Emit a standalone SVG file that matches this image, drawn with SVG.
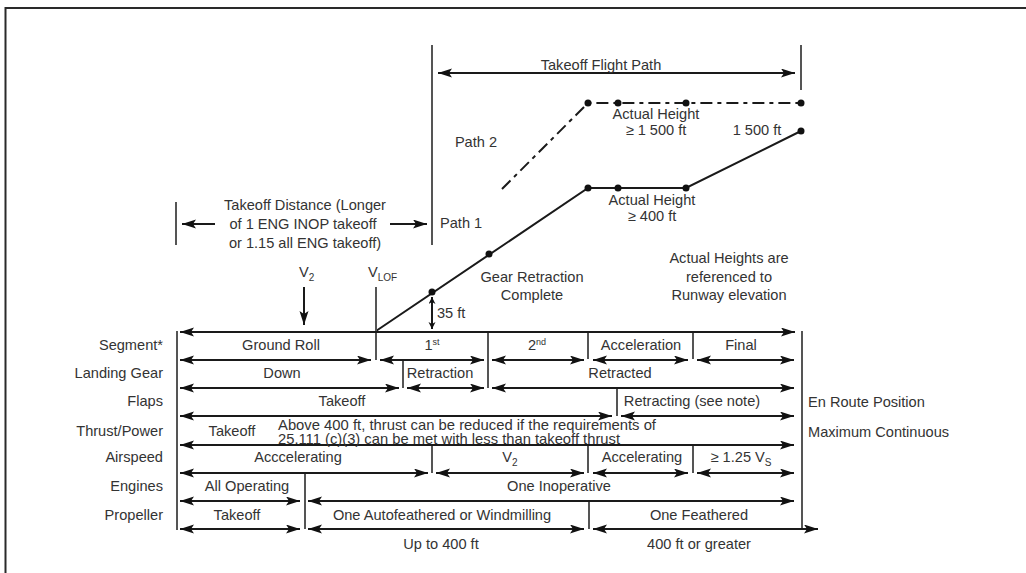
<svg xmlns="http://www.w3.org/2000/svg" width="1026" height="573" viewBox="0 0 1026 573">
<style>
text{font-family:"Liberation Sans",Arial,sans-serif;font-size:14.6px;fill:#333}
.m{text-anchor:middle}
.e{text-anchor:end}
.ln{stroke:#1a1a1a;stroke-width:2;fill:none}
.ar{stroke:#1a1a1a;stroke-width:2;fill:none;marker-end:url(#ah);marker-start:url(#ah)}
.ae{stroke:#1a1a1a;stroke-width:2;fill:none;marker-end:url(#ah)}
.dv{stroke:#555;stroke-width:2;fill:none}
.dot{fill:#111}
.sub{font-size:10px}
.sup{font-size:9px}
</style>
<defs>
<marker id="ah" markerUnits="userSpaceOnUse" markerWidth="15" markerHeight="10" refX="14" refY="4.5" orient="auto-start-reverse">
<path d="M0,0 L14,4.5 L0,9 L3,4.5 Z" fill="#111"/>
</marker>
<marker id="as" markerUnits="userSpaceOnUse" markerWidth="8" markerHeight="8" refX="7" refY="3.5" orient="auto-start-reverse">
<path d="M0,0 L7,3.5 L0,7 L2,3.5 Z" fill="#111"/>
</marker>
</defs>
<rect width="1026" height="573" fill="#fff"/>
<g id="frame">
<path d="M5.5,573 V8 H1026" stroke="#2a2a2a" stroke-width="2" fill="none"/>
</g>
<g id="connectors">
<line class="dv" x1="432" y1="45" x2="432" y2="245"/>
<line class="dv" x1="801" y1="45" x2="801" y2="90"/>
<line class="ar" x1="438" y1="73" x2="795" y2="73"/>
<line class="dv" x1="176" y1="202" x2="176" y2="245"/>
<line class="ae" x1="215" y1="224" x2="182" y2="224"/>
<line class="ae" x1="390" y1="224" x2="427" y2="224"/>
<line class="ae" x1="304" y1="287" x2="304" y2="325"/>
<line stroke="#1a1a1a" stroke-width="2" x1="432" y1="297" x2="432" y2="329" marker-start="url(#as)" marker-end="url(#as)"/>
<polyline class="ln" points="376,331 588,188 686,188 801,131"/>
<polyline class="ln" points="502,189 588,103 801,103" stroke-dasharray="12 5 4 5"/>
</g>
<g id="path-dots">
<circle class="dot" cx="432" cy="292" r="3.5"/>
<circle class="dot" cx="489" cy="254" r="3.5"/>
<circle class="dot" cx="588" cy="188" r="3.5"/>
<circle class="dot" cx="618" cy="188" r="3.5"/>
<circle class="dot" cx="686" cy="188" r="3.5"/>
<circle class="dot" cx="801" cy="131" r="3.5"/>
<circle class="dot" cx="588" cy="103" r="3.5"/>
<circle class="dot" cx="618" cy="103" r="3.5"/>
<circle class="dot" cx="686" cy="103" r="3.5"/>
<circle class="dot" cx="801" cy="103" r="3.5"/>
</g>
<g id="flight-labels">
<text class="m" x="601" y="70">Takeoff Flight Path</text>
<text class="m" x="476" y="147">Path 2</text>
<text class="m" x="656" y="119">Actual Height</text>
<text class="m" x="656" y="135">≥ 1 500 ft</text>
<text class="m" x="757" y="135">1 500 ft</text>
<text class="m" x="652" y="205">Actual Height</text>
<text class="m" x="652" y="221">≥ 400 ft</text>
<text x="440" y="228">Path 1</text>
<text class="m" x="532" y="282">Gear Retraction</text>
<text class="m" x="532" y="300">Complete</text>
<text class="m" x="729" y="263">Actual Heights are</text>
<text class="m" x="729" y="282">referenced to</text>
<text class="m" x="729" y="300">Runway elevation</text>
<text class="m" x="305" y="210">Takeoff Distance (Longer</text>
<text class="m" x="303" y="229">of 1 ENG INOP takeoff</text>
<text class="m" x="305" y="248">or 1.15 all ENG takeoff)</text>
<text x="299" y="277">V<tspan class="sub" dy="4">2</tspan></text>
<text x="368" y="277">V<tspan class="sub" dy="4">LOF</tspan></text>
<text x="437" y="318">35 ft</text>
</g>
<g id="table-lines">
<line class="dv" x1="177" y1="331" x2="177" y2="530"/>
<line class="dv" x1="802" y1="331" x2="802" y2="530"/>
<line class="dv" x1="376" y1="287" x2="376" y2="360"/>
<line class="dv" x1="488" y1="332" x2="488" y2="388"/>
<line class="dv" x1="588" y1="332" x2="588" y2="359"/>
<line class="dv" x1="693" y1="332" x2="693" y2="359"/>
<line class="dv" x1="403" y1="360" x2="403" y2="388"/>
<line class="dv" x1="617" y1="388" x2="617" y2="416"/>
<line class="dv" x1="432" y1="445" x2="432" y2="473"/>
<line class="dv" x1="588" y1="445" x2="588" y2="473"/>
<line class="dv" x1="693" y1="445" x2="693" y2="473"/>
<line class="dv" x1="305" y1="473" x2="305" y2="529"/>
<line class="dv" x1="589" y1="501" x2="589" y2="529"/>
<line class="ar" x1="180" y1="332" x2="795" y2="332"/>
<line class="ar" x1="180" y1="360" x2="371" y2="360"/>
<line class="ar" x1="380" y1="360" x2="484" y2="360"/>
<line class="ar" x1="492" y1="360" x2="584" y2="360"/>
<line class="ar" x1="593" y1="360" x2="688" y2="360"/>
<line class="ar" x1="697" y1="360" x2="794" y2="360"/>
<line class="ar" x1="180" y1="388" x2="399" y2="388"/>
<line class="ar" x1="407" y1="388" x2="484" y2="388"/>
<line class="ar" x1="492" y1="388" x2="794" y2="388"/>
<line class="ar" x1="180" y1="416" x2="612" y2="416"/>
<line class="ar" x1="621" y1="416" x2="794" y2="416"/>
<line class="ar" x1="180" y1="445" x2="794" y2="445"/>
<line class="ar" x1="180" y1="473" x2="428" y2="473"/>
<line class="ar" x1="436" y1="473" x2="584" y2="473"/>
<line class="ar" x1="593" y1="473" x2="688" y2="473"/>
<line class="ar" x1="697" y1="473" x2="794" y2="473"/>
<line class="ar" x1="180" y1="501" x2="300" y2="501"/>
<line class="ar" x1="308" y1="501" x2="794" y2="501"/>
<line class="ar" x1="180" y1="529" x2="300" y2="529"/>
<line class="ar" x1="308" y1="529" x2="584" y2="529"/>
<line class="ar" x1="593" y1="529" x2="818" y2="529"/>
</g>
<g id="row-labels">
<text class="e" x="163" y="350">Segment*</text>
<text class="e" x="163" y="378">Landing Gear</text>
<text class="e" x="163" y="406">Flaps</text>
<text class="e" x="163" y="436">Thrust/Power</text>
<text class="e" x="163" y="462">Airspeed</text>
<text class="e" x="163" y="491">Engines</text>
<text class="e" x="163" y="520">Propeller</text>
</g>
<g id="row-segment">
<text class="m" x="281" y="350">Ground Roll</text>
<text class="m" x="432" y="350">1<tspan class="sup" dy="-5">st</tspan></text>
<text class="m" x="537" y="350">2<tspan class="sup" dy="-5">nd</tspan></text>
<text class="m" x="641" y="350">Acceleration</text>
<text class="m" x="741" y="350">Final</text>
</g>
<g id="row-gear">
<text class="m" x="282" y="378">Down</text>
<text class="m" x="440" y="378">Retraction</text>
<text class="m" x="620" y="378">Retracted</text>
</g>
<g id="row-flaps">
<text class="m" x="342" y="406">Takeoff</text>
<text class="m" x="692" y="406">Retracting (see note)</text>
<text x="808" y="407">En Route Position</text>
</g>
<g id="row-thrust">
<text class="m" x="232" y="436">Takeoff</text>
<text x="278" y="430" textLength="378" lengthAdjust="spacingAndGlyphs">Above 400 ft, thrust can be reduced if the requirements of</text>
<text x="278" y="444" textLength="342" lengthAdjust="spacingAndGlyphs">25.111 (c)(3) can be met with less than takeoff thrust</text>
<text x="808" y="437">Maximum Continuous</text>
</g>
<g id="row-airspeed">
<text class="m" x="298" y="462">Acccelerating</text>
<text class="m" x="510" y="462">V<tspan class="sub" dy="4">2</tspan></text>
<text class="m" x="642" y="462">Accelerating</text>
<text class="m" x="741" y="462">≥ 1.25 V<tspan class="sub" dy="4">S</tspan></text>
</g>
<g id="row-engines">
<text class="m" x="247" y="491">All Operating</text>
<text class="m" x="559" y="491">One Inoperative</text>
</g>
<g id="row-propeller">
<text class="m" x="237" y="520">Takeoff</text>
<text class="m" x="442" y="520">One Autofeathered or Windmilling</text>
<text class="m" x="699" y="520">One Feathered</text>
<text class="m" x="441" y="549">Up to 400 ft</text>
<text class="m" x="699" y="549">400 ft or greater</text>
</g>
</svg>
